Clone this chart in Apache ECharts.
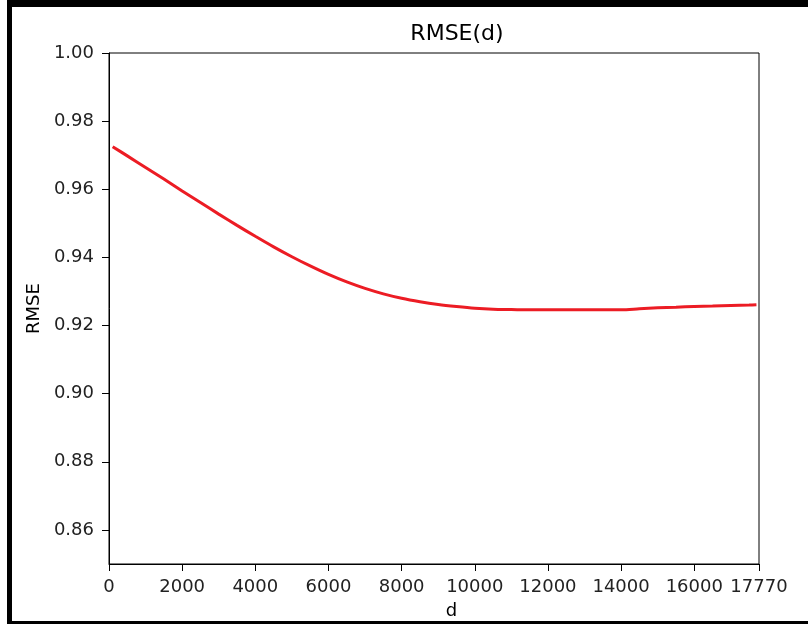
<!DOCTYPE html>
<html>
<head>
<meta charset="utf-8">
<title>RMSE(d)</title>
<script src="https://cdn.jsdelivr.net/npm/echarts@6/dist/echarts.min.js"></script>
<style>
  html, body { margin: 0; padding: 0; background: #ffffff; }
  #chart { width: 808px; height: 625px; }
</style>
</head>
<body>
<div id="chart"></div>
<script>
// Number of latent dimensions d
const dValues = [100, 500, 1000, 1500, 2000, 2500, 3000, 3500, 4000, 4500, 5000, 5500,
  6000, 6500, 7000, 7500, 8000, 8500, 9000, 9500, 10000, 10500, 11000, 11500, 12000,
  12500, 13000, 13500, 14000, 14500, 15000, 15500, 16000, 16500, 17000, 17500, 17700];
// RMSE measured at each d
const rmseValues = [0.9725, 0.9698, 0.9664, 0.9630, 0.9595, 0.9561, 0.9527, 0.9494,
  0.9462, 0.9431, 0.9402, 0.9375, 0.9350, 0.9328, 0.9309, 0.9293, 0.9280, 0.9270,
  0.9262, 0.9256, 0.9251, 0.9248, 0.9247, 0.9246, 0.9246, 0.9246, 0.9246, 0.9246,
  0.9246, 0.9249, 0.9252, 0.9254, 0.9256, 0.9257, 0.9259, 0.9260, 0.9261];
// Axis tick positions
const xTicks = [0, 2000, 4000, 6000, 8000, 10000, 12000, 14000, 16000, 17770];
const yTicks = [0.86, 0.88, 0.90, 0.92, 0.94, 0.96, 0.98, 1.00];

const FONT = 'DejaVu Sans';
const chart = echarts.init(document.getElementById('chart'), null, { renderer: 'canvas' });

chart.setOption({
  backgroundColor: '#ffffff',
  animation: false,
  title: {
    text: 'RMSE(d)',
    left: 452,
    top: 18,
    textAlign: 'center',
    textStyle: { fontFamily: FONT, fontSize: 22, fontWeight: 'normal', color: '#000' }
  },
  grid: {
    left: 109, top: 53, width: 650, height: 511,
    show: true, borderColor: '#000', borderWidth: 1, backgroundColor: 'transparent'
  },
  xAxis: {
    type: 'value',
    min: 0,
    max: 17770,
    name: 'd',
    nameLocation: 'middle',
    nameGap: 38,
    nameTextStyle: { fontFamily: FONT, fontSize: 18, color: '#000', padding: [0, 0, 0, 35] },
    axisLine: { show: true, onZero: false, lineStyle: { color: '#000', width: 1 } },
    axisTick: { show: true, length: 7, customValues: xTicks, lineStyle: { color: '#000' } },
    axisLabel: {
      show: true, margin: 14, customValues: xTicks,
      fontFamily: FONT, fontSize: 18, color: '#222',
      formatter: v => String(v)
    },
    splitLine: { show: false }
  },
  yAxis: {
    type: 'value',
    min: 0.85,
    max: 1.0,
    name: 'RMSE',
    nameLocation: 'middle',
    nameGap: 66,
    nameTextStyle: { fontFamily: FONT, fontSize: 18, color: '#000' },
    axisLine: { show: true, onZero: false, lineStyle: { color: '#000', width: 1 } },
    axisTick: { show: true, length: 7, customValues: yTicks, lineStyle: { color: '#000' } },
    axisLabel: {
      show: true, margin: 15, customValues: yTicks,
      fontFamily: FONT, fontSize: 18, color: '#222',
      formatter: v => v.toFixed(2)
    },
    splitLine: { show: false }
  },
  series: [{
    type: 'line',
    data: dValues.map((d, i) => [d, rmseValues[i]]),
    smooth: 0.3,
    symbol: 'none',
    lineStyle: { color: '#ec1c24', width: 3 }
  }],
  graphic: [
    // outer frame around the figure
    { type: 'rect', shape: { x: 7, y: 0, width: 801, height: 7 }, style: { fill: '#000' }, silent: true },
    { type: 'rect', shape: { x: 7, y: 0, width: 5, height: 624 }, style: { fill: '#000' }, silent: true },
    { type: 'rect', shape: { x: 7, y: 621, width: 801, height: 3 }, style: { fill: '#000' }, silent: true }
  ]
});
</script>
</body>
</html>
